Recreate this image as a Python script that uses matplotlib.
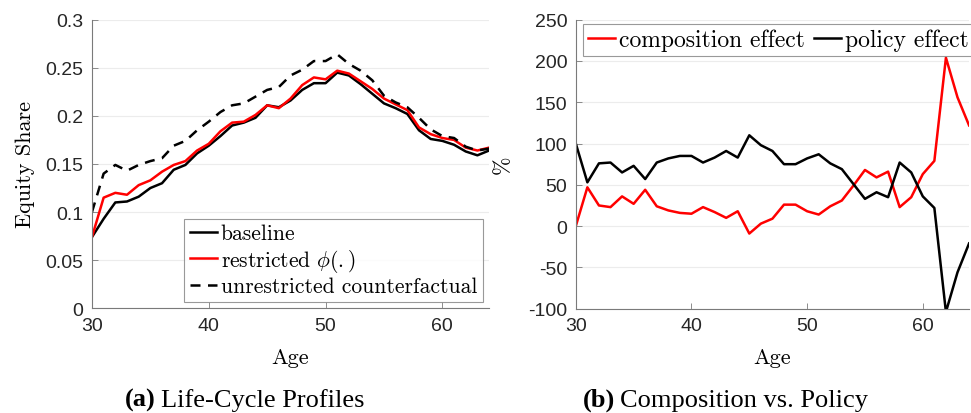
import matplotlib.pyplot as plt

plt.rcParams['mathtext.fontset'] = 'cm'

age = list(range(30, 65))

baseline = [0.074, 0.093, 0.110, 0.111, 0.116, 0.125, 0.130, 0.144, 0.149, 0.161,
            0.169, 0.179, 0.190, 0.193, 0.198, 0.211, 0.209, 0.216, 0.227, 0.234,
            0.234, 0.245, 0.242, 0.233, 0.223, 0.213, 0.208, 0.202, 0.185, 0.176,
            0.174, 0.170, 0.163, 0.159, 0.164]
restricted = [0.074, 0.115, 0.120, 0.118, 0.128, 0.133, 0.142, 0.149, 0.153, 0.164,
              0.171, 0.184, 0.193, 0.194, 0.201, 0.211, 0.208, 0.218, 0.232, 0.240,
              0.238, 0.247, 0.244, 0.236, 0.228, 0.218, 0.212, 0.206, 0.188, 0.181,
              0.177, 0.175, 0.167, 0.164, 0.167]
unrestricted = [0.100, 0.140, 0.149, 0.143, 0.149, 0.153, 0.156, 0.169, 0.174, 0.185,
                0.194, 0.204, 0.211, 0.213, 0.220, 0.227, 0.230, 0.242, 0.248, 0.257,
                0.257, 0.264, 0.254, 0.247, 0.237, 0.221, 0.214, 0.209, 0.198, 0.186,
                0.179, 0.177, 0.168, 0.164, 0.166]

composition = [0, 47, 25, 23, 36, 27, 44, 24, 19, 16, 15, 23, 17, 10, 18, -9, 3, 9,
               26, 26, 18, 14, 24, 31, 49, 68, 59, 66, 23, 35, 63, 79, 204, 156, 122]
policy = [100, 53, 76, 77, 65, 73, 57, 77, 82, 85, 85, 77, 83, 91, 83, 110, 98, 91,
          75, 75, 82, 87, 76, 69, 51, 33, 41, 35, 77, 65, 36, 22, -104, -56, -21]

left_yticks = [0, 0.05, 0.1, 0.15, 0.2, 0.25, 0.3]
left_ylabels = ['0', '0.05', '0.1', '0.15', '0.2', '0.25', '0.3']
right_yticks = [-100, -50, 0, 50, 100, 150, 200, 250]
xticks = [30, 40, 50, 60]

tick_font = {'family': 'Liberation Sans', 'size': 14}
serif = 'cmr10'

fig = plt.figure(figsize=(9.71, 4.14), dpi=100)
ax1 = fig.add_axes([0.0947, 0.253, 0.409, 0.697])
ax2 = fig.add_axes([0.593, 0.252, 0.405, 0.698])

for ax in (ax1, ax2):
    for s in ('top', 'right'):
        ax.spines[s].set_visible(False)
    for s in ('left', 'bottom'):
        ax.spines[s].set_color('#7a7a7a')
        ax.spines[s].set_linewidth(0.8)
    ax.tick_params(direction='in', length=4, colors='#7a7a7a', width=0.6,
                   labelcolor='#262626', pad=6)
    ax.grid(True, axis='y', color='#ececec', linewidth=0.8)
    ax.set_axisbelow(True)
    ax.set_xlim(30, 64)
    ax.set_xticks(xticks)
    ax.set_xticklabels([str(t) for t in xticks], fontdict=tick_font)
    ax.set_xlabel('Age', family=serif, size=16, labelpad=10)

ax1.plot(age, baseline, color='black', lw=1.8, label='baseline')
ax1.plot(age, restricted, color='red', lw=1.8, label=r'restricted $\phi(.)$')
ax1.plot(age, unrestricted, color='black', lw=1.8, ls=(0, (4, 3)),
         label='unrestricted counterfactual')
ax1.set_ylim(0, 0.3)
ax1.set_yticks(left_yticks)
ax1.set_yticklabels(left_ylabels, fontdict=tick_font)
ax1.set_ylabel('Equity Share', family=serif, size=16, labelpad=8)
leg1 = ax1.legend(loc='lower right', prop={'family': serif, 'size': 15.5},
                  frameon=True, fancybox=False, handlelength=1.25,
                  handletextpad=0.2, borderpad=0.25, labelspacing=0.15,
                  borderaxespad=0.3, bbox_to_anchor=(1.0, 0.0))
leg1.get_frame().set_edgecolor('#808080')
leg1.get_frame().set_linewidth(0.8)

ax2.plot(age, composition, color='red', lw=1.8, label='composition effect')
ax2.plot(age, policy, color='black', lw=1.8, label='policy effect')
ax2.set_ylim(-100, 250)
ax2.set_yticks(right_yticks)
ax2.set_yticklabels([str(t) for t in right_yticks], fontdict=tick_font)
ax2.set_ylabel('%', family=serif, size=16)
ax2.yaxis.set_label_coords(-0.160, 0.5)
leg2 = ax2.legend(loc='upper left', ncol=2, prop={'family': serif, 'size': 17},
                  frameon=True, fancybox=False, handlelength=1.15,
                  handletextpad=0.2, borderpad=0.2, columnspacing=0.35,
                  borderaxespad=0.0, bbox_to_anchor=(0.018, 0.985))
leg2.get_frame().set_edgecolor('#808080')
leg2.get_frame().set_linewidth(0.8)

fig.text(0.1607, 0.017, '(a)', family='Liberation Serif', weight='bold', fontsize=19,
         ha='right', va='baseline')
fig.text(0.1658, 0.017, 'Life-Cycle Profiles', family='Liberation Serif', fontsize=19,
         ha='left', va='baseline')
fig.text(0.6334, 0.017, '(b)', family='Liberation Serif', weight='bold', fontsize=19,
         ha='right', va='baseline')
fig.text(0.6385, 0.017, 'Composition vs. Policy', family='Liberation Serif', fontsize=19,
         ha='left', va='baseline')

fig.savefig('out.png', dpi=100)
